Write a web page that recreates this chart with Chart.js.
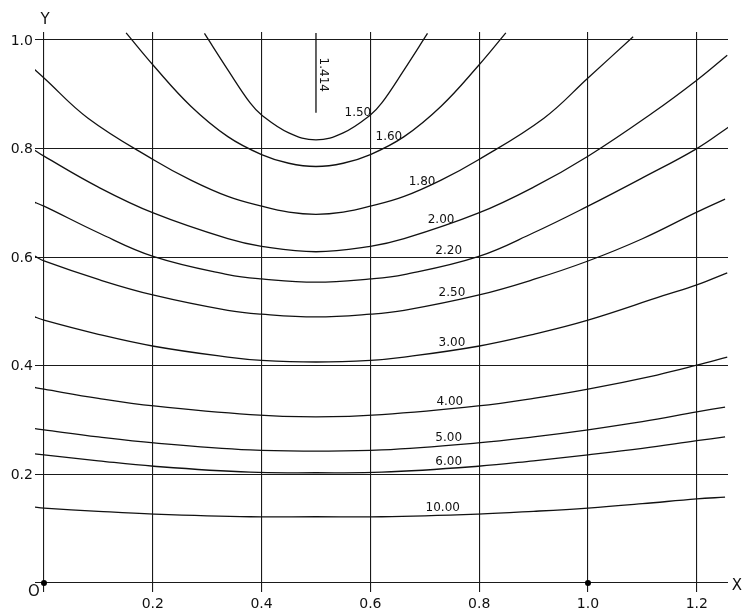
<!DOCTYPE html>
<html>
<head>
<meta charset="utf-8">
<script src="https://cdn.jsdelivr.net/npm/chart.js@4"></script>
<style>
  html, body { margin: 0; padding: 0; background: #fff; }
  #wrap { width: 743px; height: 613px; position: relative; }
</style>
</head>
<body>
<div id="wrap"><canvas id="chart"></canvas></div>
<script>
// grid / tick values
const xTicks = [0, 0.2, 0.4, 0.6, 0.8, 1.0, 1.2];
const yTicks = [0, 0.2, 0.4, 0.6, 0.8, 1.0];
const xTickLabels = ['', '0.2', '0.4', '0.6', '0.8', '1.0', '1.2'];
const yTickLabels = ['', '0.2', '0.4', '0.6', '0.8', '1.0'];

// contour levels
const levels = ['1.50', '1.60', '1.80', '2.00', '2.20', '2.50', '3.00', '4.00', '5.00', '6.00', '10.00'];

const c150x = [0.295, 0.338, 0.379, 0.4, 0.45, 0.5, 0.55, 0.6, 0.621, 0.662, 0.705];
const c150y = [1.012, 0.945, 0.884, 0.862, 0.829, 0.816, 0.829, 0.862, 0.884, 0.945, 1.012];

const c160x = [0.151, 0.202, 0.27, 0.338, 0.4, 0.45, 0.5, 0.55, 0.6, 0.662, 0.73, 0.798, 0.849];
const c160y = [1.013, 0.952, 0.878, 0.822, 0.789, 0.773, 0.767, 0.773, 0.789, 0.822, 0.878, 0.952, 1.013];

const c180x = [-0.02, 0, 0.081, 0.202, 0.27, 0.338, 0.4, 0.45, 0.5, 0.55, 0.6, 0.662, 0.73, 0.798, 0.919, 1.0, 1.083];
const c180y = [0.948, 0.930, 0.856, 0.779, 0.742, 0.712, 0.694, 0.683, 0.679, 0.683, 0.694, 0.712, 0.742, 0.779, 0.856, 0.930, 1.006];

const c200x = [-0.017, 0, 0.1, 0.202, 0.338, 0.4, 0.5, 0.6, 0.662, 0.798, 0.9, 1.0, 1.119, 1.2, 1.256];
const c200y = [0.797, 0.786, 0.729, 0.681, 0.634, 0.620, 0.610, 0.620, 0.634, 0.681, 0.729, 0.786, 0.866, 0.926, 0.972];

const c220x = [-0.022, 0, 0.1, 0.202, 0.338, 0.4, 0.5, 0.6, 0.662, 0.798, 0.9, 1.0, 1.1, 1.2, 1.259];
const c220y = [0.703, 0.694, 0.645, 0.601, 0.568, 0.560, 0.554, 0.560, 0.568, 0.601, 0.645, 0.694, 0.746, 0.800, 0.840];

const c250x = [-0.017, 0, 0.1, 0.202, 0.338, 0.4, 0.5, 0.6, 0.662, 0.798, 0.9, 1.0, 1.1, 1.2, 1.252];
const c250y = [0.602, 0.593, 0.559, 0.530, 0.502, 0.495, 0.490, 0.495, 0.502, 0.530, 0.559, 0.593, 0.634, 0.683, 0.707];

const c300x = [-0.022, 0, 0.1, 0.202, 0.338, 0.4, 0.5, 0.6, 0.662, 0.798, 0.9, 1.0, 1.138, 1.2, 1.256];
const c300y = [0.492, 0.484, 0.458, 0.436, 0.416, 0.410, 0.407, 0.410, 0.416, 0.436, 0.458, 0.484, 0.529, 0.549, 0.571];

const c400x = [-0.022, 0, 0.1, 0.202, 0.379, 0.5, 0.621, 0.798, 0.9, 1.0, 1.127, 1.2, 1.256];
const c400y = [0.361, 0.357, 0.340, 0.326, 0.310, 0.306, 0.310, 0.326, 0.340, 0.357, 0.383, 0.401, 0.416];

const c500x = [-0.022, 0, 0.1, 0.202, 0.379, 0.5, 0.621, 0.798, 0.9, 1.0, 1.1, 1.2, 1.252];
const c500y = [0.285, 0.282, 0.269, 0.258, 0.245, 0.243, 0.245, 0.258, 0.269, 0.282, 0.297, 0.315, 0.324];

const c600x = [-0.026, 0, 0.1, 0.202, 0.379, 0.5, 0.621, 0.798, 0.9, 1.0, 1.1, 1.2, 1.252];
const c600y = [0.239, 0.236, 0.225, 0.215, 0.204, 0.203, 0.204, 0.215, 0.225, 0.236, 0.248, 0.262, 0.269];

const c1000x = [-0.02, 0, 0.1, 0.202, 0.379, 0.5, 0.621, 0.798, 0.9, 1.0, 1.1, 1.2, 1.252];
const c1000y = [0.140, 0.138, 0.132, 0.127, 0.122, 0.122, 0.122, 0.127, 0.132, 0.138, 0.146, 0.155, 0.158];

// the 1.414 level collapses to a vertical segment at x = 0.5
const c1414x = [0.5, 0.5];
const c1414y = [0.866, 1.013];

// marked points on the X axis
const dotX = [0, 1.0];
const dotY = [0, 0];

const curvesX = [c150x, c160x, c180x, c200x, c220x, c250x, c300x, c400x, c500x, c600x, c1000x];
const curvesY = [c150y, c160y, c180y, c200y, c220y, c250y, c300y, c400y, c500y, c600y, c1000y];

// where each level is lettered (data coords)
const labelX = [0.577, 0.634, 0.695, 0.730, 0.744, 0.750, 0.750, 0.746, 0.744, 0.744, 0.733];
const labelY = [0.866, 0.821, 0.738, 0.668, 0.611, 0.534, 0.442, 0.333, 0.267, 0.223, 0.138];

const toPoints = (xs, ys) => xs.map((v, i) => ({ x: v, y: ys[i] }));

const datasets = curvesX.map((xs, i) => ({
    label: levels[i],
    data: toPoints(xs, curvesY[i]),
    showLine: true,
    borderColor: '#111',
    borderWidth: 1.3,
    pointRadius: 0,
    tension: 0.4
}));
datasets.push({
    label: '1.414',
    data: toPoints(c1414x, c1414y),
    showLine: true,
    borderColor: '#111',
    borderWidth: 1.3,
    pointRadius: 0
});
datasets.push({
    label: 'dots',
    data: toPoints(dotX, dotY),
    showLine: false,
    pointRadius: 3,
    pointBackgroundColor: '#000',
    pointBorderWidth: 0
});

const FONT = '"DejaVu Sans", sans-serif';

const paperLabels = {
    id: 'paperLabels',
    afterDraw(chart) {
        const { ctx, scales: { x, y } } = chart;
        const x0 = x.getPixelForValue(0);
        const y0 = y.getPixelForValue(0);
        ctx.save();
        ctx.fillStyle = '#111';

        // axis numbers
        ctx.font = '14px ' + FONT;
        ctx.textAlign = 'right';
        ctx.textBaseline = 'middle';
        yTicks.forEach((v, i) => {
            if (yTickLabels[i]) ctx.fillText(yTickLabels[i], x0 - 11, y.getPixelForValue(v) + 1);
        });
        ctx.textAlign = 'center';
        ctx.textBaseline = 'top';
        xTicks.forEach((v, i) => {
            if (xTickLabels[i]) ctx.fillText(xTickLabels[i], x.getPixelForValue(v), y0 + 14);
        });

        // origin and axis letters
        ctx.font = '15px ' + FONT;
        ctx.textBaseline = 'middle';
        ctx.fillText('O', x0 - 10, y0 + 9);
        ctx.fillText('Y', x0 + 1, 20);
        ctx.fillText('X', chart.chartArea.right + 9, y0 + 3);

        // level lettering
        ctx.font = '12px ' + FONT;
        levels.forEach((t, i) => {
            ctx.fillText(t, x.getPixelForValue(labelX[i]), y.getPixelForValue(labelY[i]));
        });
        ctx.save();
        ctx.translate(x.getPixelForValue(0.513), y.getPixelForValue(0.936));
        ctx.rotate(Math.PI / 2);
        ctx.fillText('1.414', 0, 0);
        ctx.restore();

        ctx.restore();
    }
};

new Chart(document.getElementById('chart'), {
    type: 'scatter',
    data: { datasets },
    options: {
        responsive: true,
        maintainAspectRatio: false,
        animation: false,
        layout: { padding: { left: 35, right: 15, top: 32, bottom: 21 } },
        plugins: { legend: { display: false }, tooltip: { enabled: false } },
        scales: {
            x: {
                type: 'linear',
                min: -0.0165,
                max: 1.2574,
                afterBuildTicks: s => { s.ticks = xTicks.map(v => ({ value: v })); },
                ticks: { display: false },
                grid: { color: '#1a1a1a', lineWidth: 1.1, drawTicks: false },
                border: { display: false }
            },
            y: {
                type: 'linear',
                min: -0.0166,
                max: 1.0147,
                afterBuildTicks: s => { s.ticks = yTicks.map(v => ({ value: v })); },
                ticks: { display: false },
                grid: { color: '#1a1a1a', lineWidth: 1.1, drawTicks: false },
                border: { display: false }
            }
        }
    },
    plugins: [paperLabels]
});
</script>
</body>
</html>
